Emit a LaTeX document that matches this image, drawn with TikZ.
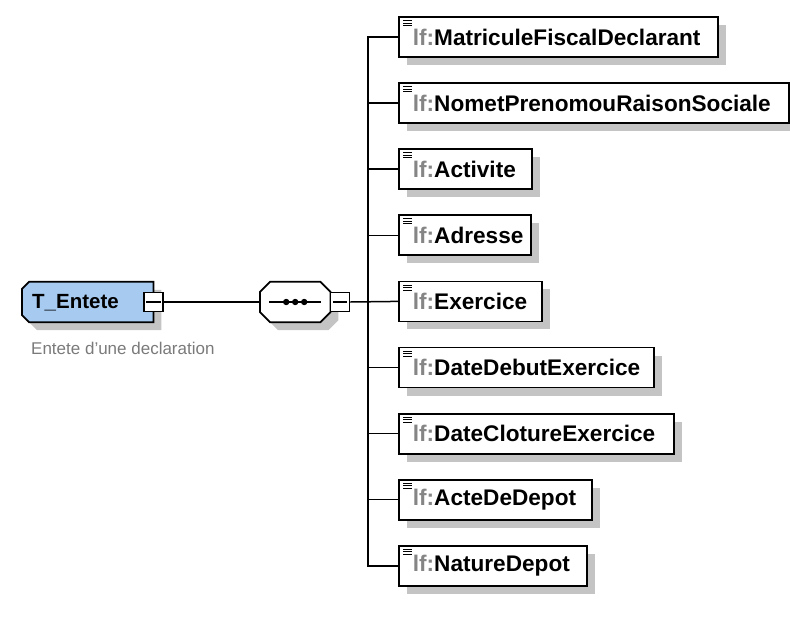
\documentclass[tikz,border=0pt]{standalone}
\usepackage{fontspec}
\setmainfont{Liberation Sans}
\usetikzlibrary{shadows}
\definecolor{tblue}{HTML}{A6CAF0}
\definecolor{lfgray}{HTML}{858585}
\definecolor{shgray}{HTML}{C4C4C4}
\definecolor{labgray}{HTML}{7A7A7A}
\tikzset{
  shad/.style={drop shadow={shadow xshift=8pt, shadow yshift=-8pt, fill=shgray, opacity=1}},
  elem/.style={shad, draw, line width=1.8pt, fill=white, rectangle, anchor=west, inner sep=0pt,
    minimum height=40pt, font=\fontsize{22.6}{22.6}\selectfont\bfseries, align=left},
  ghost/.style={rectangle, inner sep=0pt, anchor=west},
  border/.style={draw, line width=1.8pt},
  minus/.style={draw, line width=1.5pt, fill=white, rectangle, minimum size=19pt, inner sep=0pt},
  conn/.style={line width=1.5pt},
  icon/.style={line width=0.9pt},
}
\newcommand{\lfname}[1]{\hspace*{14pt}{\color{lfgray}lf:}#1}
\begin{document}
\begin{tikzpicture}[x=1pt,y=-1pt]
\useasboundingbox (0,0) rectangle (790,616);
% root
\node[ghost, minimum width=131pt, minimum height=40pt] (T) at (22,302) {};
\draw[border, shad, fill=tblue]
  ([xshift=7pt]T.north west) -- (T.north east) -- (T.south east) -- ([xshift=7pt]T.south west)
  -- ([yshift=7pt]T.south west) -- ([yshift=-7pt]T.north west) -- cycle;
\node[anchor=west, inner sep=0pt, font=\fontsize{20.5}{20.5}\selectfont\bfseries] (Ttext) at ([xshift=10pt,yshift=-1pt]T.west) {T\_Entete};
\node[minus] (tm) at (T.east) {};
\draw[line width=1.1pt] ([xshift=3pt]tm.west) -- ([xshift=-3pt]tm.east);
\node[anchor=west, inner sep=0pt, text=labgray, font=\fontsize{17}{17}\selectfont] (lab) at (31,348) {Entete d'une declaration};
% sequence
\node[ghost, minimum width=70pt, minimum height=40pt] (seq) at (260,302) {};
\draw[border, shad, fill=white]
  ([xshift=10pt]seq.north west) -- ([xshift=-10pt]seq.north east) -- ([yshift=-10pt]seq.north east)
  -- ([yshift=10pt]seq.south east) -- ([xshift=-10pt]seq.south east) -- ([xshift=10pt]seq.south west)
  -- ([yshift=10pt]seq.south west) -- ([yshift=-10pt]seq.north west) -- cycle;
\draw[line width=1.3pt] ([xshift=9pt]seq.west) -- ([xshift=-9pt]seq.east);
\foreach \dx in {-9,0,9}{\fill ([xshift=\dx pt]seq.center) circle (3.2pt);}
\node[minus, anchor=west] (sm) at ([xshift=-0.5pt]seq.east) {};
\draw[line width=1.1pt] ([xshift=3pt]sm.west) -- ([xshift=-3pt]sm.east);
% children
\node[elem, text width=319pt] (e1) at (398,37.0) {\lfname{MatriculeFiscalDeclarant}};
\node[elem, text width=390pt] (e2) at (398,103.1) {\lfname{NometPrenomouRaisonSociale}};
\node[elem, text width=133pt] (e3) at (398,169.2) {\lfname{Activite}};
\node[elem, text width=132pt] (e4) at (398,235.3) {\lfname{Adresse}};
\node[elem, text width=143pt] (e5) at (398,301.4) {\lfname{Exercice}};
\node[elem, text width=255pt] (e6) at (398,367.5) {\lfname{DateDebutExercice}};
\node[elem, text width=275pt] (e7) at (398,433.6) {\lfname{DateClotureExercice}};
\node[elem, text width=193pt] (e8) at (398,499.7) {\lfname{ActeDeDepot}};
\node[elem, text width=188pt] (e9) at (398,565.8) {\lfname{NatureDepot}};
\foreach \n in {e1,e2,e3,e4,e5,e6,e7,e8,e9}{
  \foreach \dy in {4.5,7,9.5}{\draw[icon] ([xshift=5pt,yshift=-\dy pt]\n.north west) -- ++(9,0);}
}
% connectors
\coordinate (bus) at (368,301.4);
\draw[conn] (tm.east) -- (seq.west);
\draw[conn] (sm.east) -- (e5.west);
\draw[conn] (e1.west) -| (bus) |- (e9.west);
\foreach \n in {e2,e3,e4,e6,e7,e8}{\draw[conn] (\n.west) -- (\n.west -| bus);}
\end{tikzpicture}
\end{document}
